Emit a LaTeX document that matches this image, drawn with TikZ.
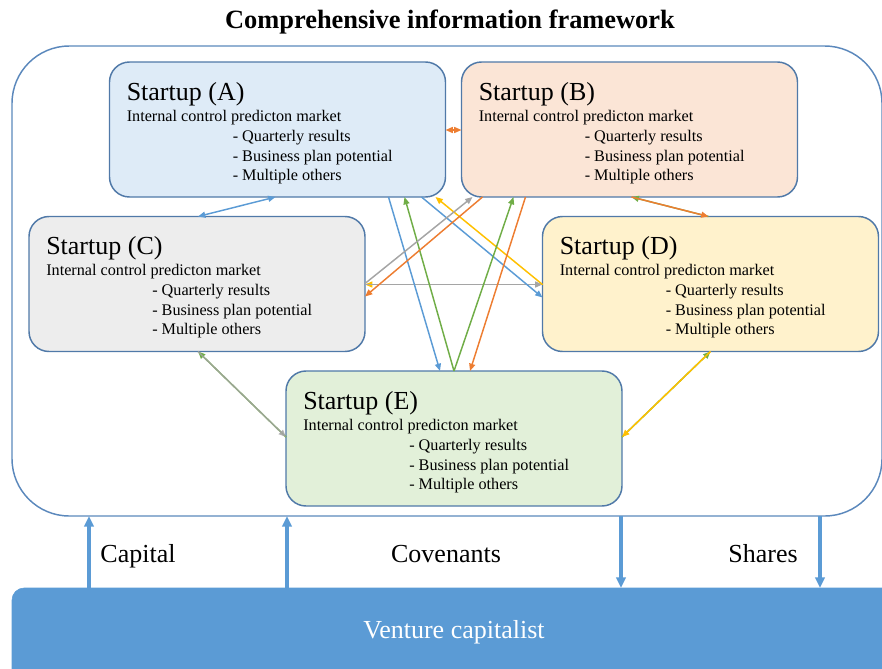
\documentclass[tikz,border=0pt]{standalone}
\usepackage{fontspec}
\setmainfont{Liberation Serif}
\usetikzlibrary{arrows.meta,calc}
\definecolor{fA}{HTML}{DEEBF7}
\definecolor{fB}{HTML}{FBE5D6}
\definecolor{fC}{HTML}{EDEDED}
\definecolor{fD}{HTML}{FFF2CC}
\definecolor{fE}{HTML}{E2F0D9}
\definecolor{bordc}{HTML}{5079A8}
\definecolor{framec}{HTML}{5B88BC}
\definecolor{cblue}{HTML}{5B9BD5}
\definecolor{corange}{HTML}{ED7D31}
\definecolor{cgray}{HTML}{A5A5A5}
\definecolor{cyellow}{HTML}{FFC000}
\definecolor{cgreen}{HTML}{70AD47}
\definecolor{vcfill}{HTML}{5B9BD5}
\begin{document}
\begin{tikzpicture}[x=0.75pt,y=-0.75pt,
  box/.style={draw=bordc, line width=1.1pt, rounded corners=15pt, minimum width=252pt, minimum height=101.25pt, inner sep=0pt, outer sep=0pt},
  ttl/.style={anchor=base west, inner sep=0pt, font=\fontsize{19.5}{23}\selectfont},
  sub/.style={anchor=base west, inner sep=0pt, font=\fontsize{12.15}{14}\selectfont},
  conn/.style={line width=1.1pt, -{Triangle[length=5.5pt,width=4.5pt]}},
  bigarrow/.style={draw=cblue, line width=2.4pt, -{Triangle[length=8pt,width=7pt]}},
  lbl/.style={anchor=base, inner sep=0pt, font=\fontsize{19.5}{23}\selectfont}]
\useasboundingbox (0,0) rectangle (882,668);

% title
\node[anchor=base, inner sep=0pt, font=\bfseries\fontsize{19.8}{23}\selectfont] (T) at (450,28) {Comprehensive information framework};

% outer frame
\node[draw=framec, line width=1.1pt, rounded corners=43pt, minimum width=652.5pt, minimum height=352.5pt, inner sep=0pt, outer sep=0pt] (F) at (447,281) {};

% startup boxes
\foreach \n/\cx/\cy/\f in {A/277.5/129.5/fA, B/629.5/129.5/fB, C/197/284/fC, D/710.5/284/fD, E/454/438.5/fE}{
  \node[box, fill=\f] (\n) at (\cx,\cy) {};
  \node[ttl] (\n t) at ($(\n.north west)+(17,38)$) {Startup (\n)};
  \node[sub] (\n s) at ($(\n.north west)+(17,59)$) {Internal control predicton market};
  \node[sub] (\n l1) at ($(\n.north west)+(123,79)$) {- Quarterly results};
  \node[sub] (\n l2) at ($(\n.north west)+(123,99)$) {- Business plan potential};
  \node[sub] (\n l3) at ($(\n.north west)+(123,118)$) {- Multiple others};
}

% A - B
\draw[conn, corange, {Triangle[length=5.5pt,width=4.5pt]}-{Triangle[length=5.5pt,width=4.5pt]}] ($(A.north east)+(0,68)$) -- ($(B.north west)+(0,68)$);
% A - C
\draw[conn, cblue, {Triangle[length=5.5pt,width=4.5pt]}-{Triangle[length=5.5pt,width=4.5pt]}] ($(A.south west)+(166,0)$) -- ($(C.north west)+(169,0)$);
% B - D
\draw[conn, cgreen] ($(D.north west)+(166,0)$) -- ($(B.south west)+(170,0)$);
\draw[conn, corange] ($(B.south west)+(170,0)$) -- ($(D.north west)+(166,0)$);
% C - E
\draw[conn, cgreen] ($(E.north west)+(0,66)$) -- ($(C.south west)+(169,0)$);
\draw[conn, cgray, opacity=0.8] ($(C.south west)+(169,0)$) -- ($(E.north west)+(0,66)$);
% D - E
\draw[conn, cgreen] ($(E.north east)+(0,66)$) -- ($(D.south west)+(168,0)$);
\draw[conn, cyellow] ($(D.south west)+(168,0)$) -- ($(E.north east)+(0,66)$);
% C - D
\draw[conn, cyellow] ($(D.north west)+(0,68)$) -- ($(C.north east)+(0,68)$);
\draw[conn, cgray] ($(C.north east)+(0,68)$) -- ($(D.north west)+(0,68)$);

% crossing connectors
\draw[conn, cblue] ($(A.south west)+(279,0)$) -- ($(E.north west)+(154,0)$);
\draw[conn, cgreen] ($(E.north west)+(168,0)$) -- ($(A.south west)+(295,0)$);
\draw[conn, cblue] ($(A.south west)+(312,0)$) -- ($(D.north west)+(0,81)$);
\draw[conn, cyellow] ($(D.north west)+(0,68)$) -- ($(A.south west)+(326,0)$);
\draw[conn, cgray] ($(C.north east)+(0,67)$) -- ($(B.south west)+(11,0)$);
\draw[conn, corange] ($(B.south west)+(21,0)$) -- ($(C.north east)+(0,80)$);
\draw[conn, cgreen] ($(E.north west)+(168,0)$) -- ($(B.south west)+(52,0)$);
\draw[conn, corange] ($(B.south west)+(64,0)$) -- ($(E.north west)+(184,0)$);

% venture capitalist
\node[fill=vcfill, draw=vcfill, rounded corners=9pt, minimum width=666pt, minimum height=76.5pt, inner sep=0pt, outer sep=0pt] (VC) at (456,639) {};
\node[lbl, text=white] (VCt) at (454,638) {Venture capitalist};

\coordinate (k1) at (89,0);
\coordinate (k2) at (287,0);
\coordinate (k3) at (621,0);
\coordinate (k4) at (820,0);
\draw[bigarrow] (k1 |- VC.north) -- (k1 |- F.south);
\draw[bigarrow] (k2 |- VC.north) -- (k2 |- F.south);
\draw[bigarrow] (k3 |- F.south) -- (k3 |- VC.north);
\draw[bigarrow] (k4 |- F.south) -- (k4 |- VC.north);

\node[lbl] (cap) at (138,562) {Capital};
\node[lbl] (cov) at (446,562) {Covenants};
\node[lbl] (sha) at (763,562) {Shares};
\end{tikzpicture}
\end{document}
